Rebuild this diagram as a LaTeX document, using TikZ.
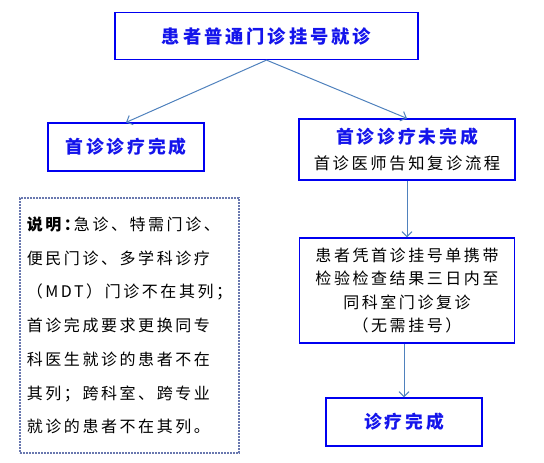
\documentclass[tikz,border=0pt]{standalone}
\usepackage{fontspec}
\newfontfamily\cjk[LetterSpace=16]{Noto Sans CJK SC}
\usetikzlibrary{arrows.meta,positioning}
\definecolor{boxblue}{RGB}{0,0,240}
\definecolor{textblue}{RGB}{20,20,235}
\definecolor{arrowblue}{RGB}{79,129,189}
\definecolor{dotblue}{RGB}{105,120,175}

\begin{document}
\begin{tikzpicture}[x=1pt,y=-1pt]
	\tikzstyle{stage} = [draw=boxblue, line width=1.2pt, rectangle, inner sep=0pt, align=center, font={\cjk\fontsize{17.8pt}{26pt}\selectfont}]
	\tikzstyle{title} = [text=textblue, font={\cjk\bfseries\fontsize{17.8pt}{26pt}\selectfont}]
	\tikzstyle{flow} = [draw=arrowblue, line width=1pt, -{Straight Barb[length=5pt,width=10pt]}]
	\useasboundingbox (0,0) rectangle (544,463);

	\node[stage, title, minimum width=303pt, minimum height=47pt, font={\cjk\bfseries\fontsize{18.3pt}{26pt}\selectfont}] (visit) at (266.5,36) {患者普通门诊挂号就诊};
	\node[stage, title, minimum width=156pt, minimum height=48pt] (done) at (126,147) {首诊诊疗完成};
	\node[stage, minimum width=216pt, minimum height=61pt, font={\cjk\fontsize{16.3pt}{26pt}\selectfont}] (undone) at (407,149.5) {{\color{textblue}\bfseries\fontsize{17.8pt}{26pt}\selectfont 首诊诊疗未完成}\\首诊医师告知复诊流程};
	\node[stage, minimum width=215pt, minimum height=105pt, font={\cjk\fontsize{16pt}{23.3pt}\selectfont}] (revisit) [below of=undone, node distance=141pt] {患者凭首诊挂号单携带\\检验检查结果三日内至\\同科室门诊复诊\\（无需挂号）};
	\node[stage, title, minimum width=156pt, minimum height=48pt] (finish) at (404,422) {诊疗完成};

	\node[draw=dotblue, line width=2pt, dash pattern=on 2pt off 1pt, minimum width=219pt, minimum height=255pt, align=left, inner sep=0pt, font={\cjk\fontsize{16pt}{33.7pt}\selectfont}] (note) at (129.5,325.5) {{\bfseries 说明：}\kern-6pt 急诊、特需门诊、\\便民门诊、多学科诊疗\\（MDT）门诊不在其列；\\首诊完成要求更换同专\\科医生就诊的患者不在\\其列；跨科室、跨专业\\就诊的患者不在其列。};

	\draw[flow] (visit.south) -- (done.north);
	\draw[flow] (visit.south) -- (undone.north);
	\draw[flow] (undone.south) -- (undone.south |- revisit.north);
	\draw[flow] (finish.north |- revisit.south) -- (finish.north);
\end{tikzpicture}
\end{document}
